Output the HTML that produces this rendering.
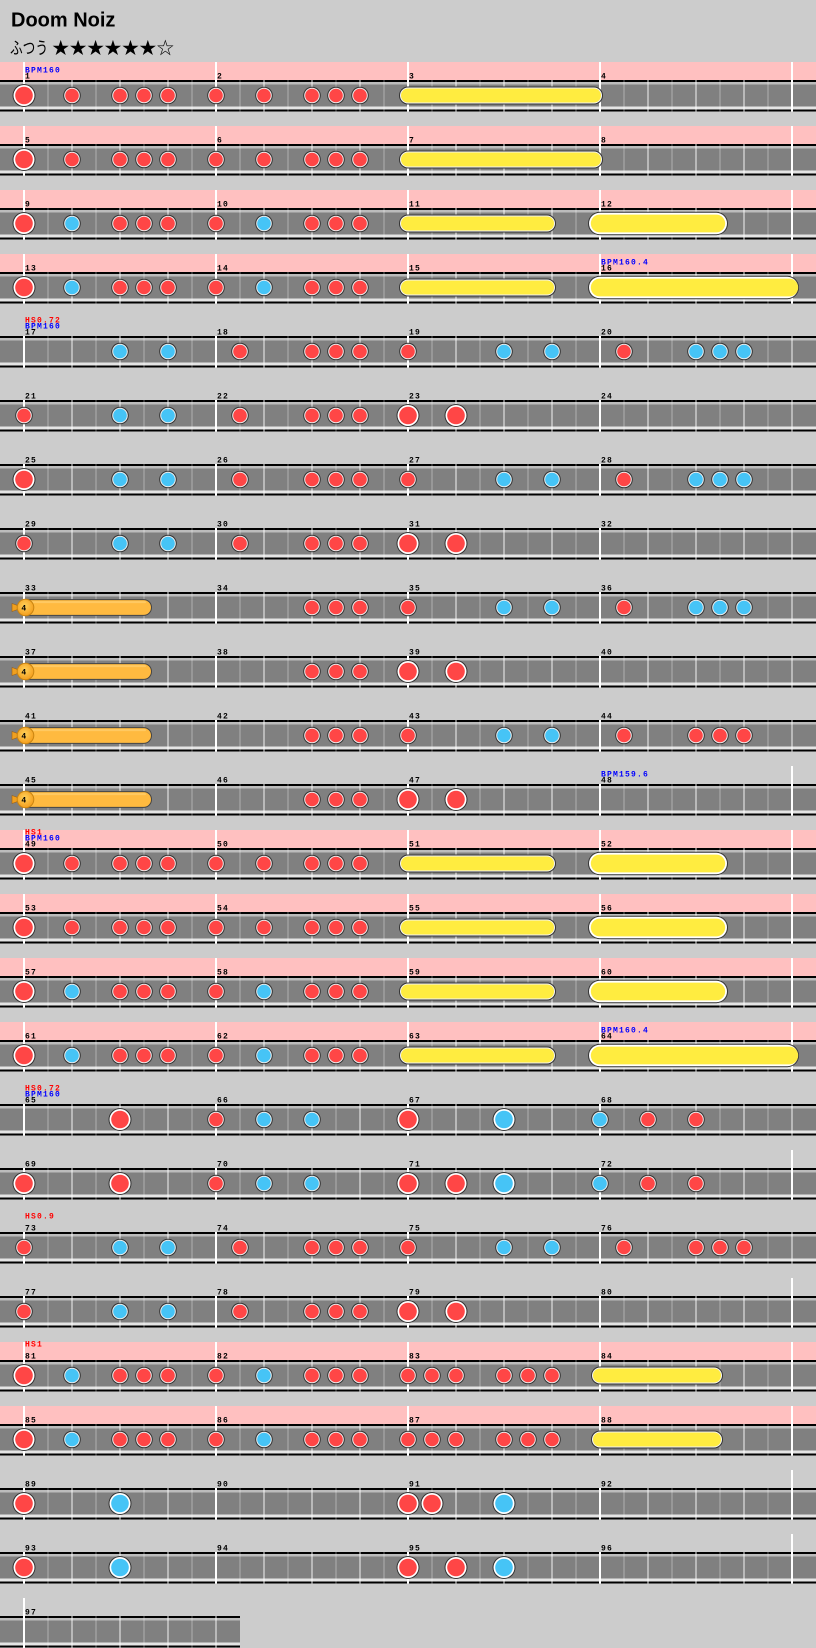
<!DOCTYPE html>
<html><head><meta charset="utf-8"><style>
html,body{margin:0;padding:0;background:#ccc;}
svg{display:block;}
</style></head><body>
<svg xmlns="http://www.w3.org/2000/svg" width="816" height="1648" viewBox="0 0 816 1648">
<defs>
<g id="lane">
<rect y="18" width="816" height="31.5" fill="#000"/>
<rect y="20" width="816" height="2.5" fill="#bcbcbc"/>
<rect y="22.5" width="816" height="22" fill="#808080"/>
<rect y="44.5" width="816" height="3" fill="#e4e4e4"/>
<path d="M48 18V49.5M96 18V49.5M144 18V49.5M192 18V49.5M240 18V49.5M288 18V49.5M336 18V49.5M384 18V49.5M432 18V49.5M480 18V49.5M528 18V49.5M576 18V49.5M624 18V49.5M672 18V49.5M720 18V49.5M768 18V49.5" stroke="#fff" stroke-opacity="0.25" stroke-width="1.5"/>
<path d="M72 18V49.5M120 18V49.5M168 18V49.5M264 18V49.5M312 18V49.5M360 18V49.5M456 18V49.5M504 18V49.5M552 18V49.5M648 18V49.5M696 18V49.5M744 18V49.5M792 18V49.5" stroke="#fff" stroke-opacity="0.45" stroke-width="2"/>
</g>
<g id="mN"><path d="M24 18V49.5M216 18V49.5M408 18V49.5M600 18V49.5" stroke="#fff" stroke-width="2"/></g>
<g id="mP"><rect width="816" height="18" fill="#ffc0c0"/><path d="M24 0V49.5M216 0V49.5M408 0V49.5M600 0V49.5M792 0V49.5" stroke="#fff" stroke-width="2"/></g>
<g id="mE"><path d="M24 18V49.5M216 18V49.5M408 18V49.5M600 18V49.5M792 0V49.5" stroke="#fff" stroke-width="2"/></g>

<g id="dS"><circle r="8.8" fill="#333"/><circle r="7.8" fill="#eee"/><circle r="6.8" fill="#ff4646"/></g>
<g id="dL"><circle r="11.5" fill="#333"/><circle r="10.5" fill="#fff"/><circle r="8.8" fill="#ff4646"/></g>
<g id="kS"><circle r="8.8" fill="#333"/><circle r="7.8" fill="#eee"/><circle r="6.8" fill="#46c4f6"/></g>
<g id="kL"><circle r="11.5" fill="#333"/><circle r="10.5" fill="#fff"/><circle r="8.8" fill="#46c4f6"/></g>

<g id="rs1"><rect x="399" y="-9" width="204" height="18" rx="9" fill="#333"/><rect x="400" y="-8" width="202" height="16" rx="8" fill="#f4f4f4"/><rect x="401" y="-7" width="200" height="14" rx="7" fill="#ffec40"/></g>
<g id="rs2"><rect x="399" y="-9" width="157" height="18" rx="9" fill="#333"/><rect x="400" y="-8" width="155" height="16" rx="8" fill="#f4f4f4"/><rect x="401" y="-7" width="153" height="14" rx="7" fill="#ffec40"/></g>
<g id="rs3"><rect x="591" y="-9" width="132" height="18" rx="9" fill="#333"/><rect x="592" y="-8" width="130" height="16" rx="8" fill="#f4f4f4"/><rect x="593" y="-7" width="128" height="14" rx="7" fill="#ffec40"/></g>
<g id="rb1"><rect x="588" y="-11.7" width="140" height="23.4" rx="11.7" fill="#333"/><rect x="589" y="-10.7" width="138" height="21.4" rx="10.7" fill="#fff"/><rect x="590.8" y="-8.9" width="134.4" height="17.8" rx="8.9" fill="#ffec40"/></g>
<g id="rb2"><rect x="588" y="-11.7" width="211" height="23.4" rx="11.7" fill="#333"/><rect x="589" y="-10.7" width="209" height="21.4" rx="10.7" fill="#fff"/><rect x="590.8" y="-8.9" width="207.4" height="17.8" rx="8.9" fill="#ffec40"/></g>

<radialGradient id="bg" cx="0.45" cy="0.4" r="0.6"><stop offset="0" stop-color="#ffd25a"/><stop offset="1" stop-color="#f5a020"/></radialGradient>
<g id="bal">
<polygon points="12,-4 19,-1.5 19,1.5 12,4" fill="#f0a020" stroke="#a06010" stroke-width="0.6"/>
<rect x="18" y="-8.4" width="134" height="16.8" rx="8.4" fill="#444"/>
<rect x="19" y="-7.4" width="132" height="14.8" rx="7.4" fill="#ffba40"/>
<rect x="30" y="-6.4" width="116" height="2" rx="1" fill="#ffd070" opacity="0.7"/>
<circle cx="25.5" r="8.8" fill="#c98410"/>
<circle cx="25.5" r="7.8" fill="url(#bg)"/>
<text x="23.8" y="2.9" font-family="Liberation Mono, monospace" font-size="8" font-weight="bold" text-anchor="middle" fill="#000">4</text>
</g>

<g id="NA"><use href="#dS" x="360"/><use href="#dS" x="336"/><use href="#dS" x="312"/><use href="#dS" x="264"/><use href="#dS" x="216"/><use href="#dS" x="168"/><use href="#dS" x="144"/><use href="#dS" x="120"/><use href="#dS" x="72"/><use href="#dL" x="24"/></g>
<g id="NB"><use href="#dS" x="360"/><use href="#dS" x="336"/><use href="#dS" x="312"/><use href="#kS" x="264"/><use href="#dS" x="216"/><use href="#dS" x="168"/><use href="#dS" x="144"/><use href="#dS" x="120"/><use href="#kS" x="72"/><use href="#dL" x="24"/></g>
<g id="C0"><use href="#dS" x="240"/><use href="#kS" x="168"/><use href="#kS" x="120"/></g>
<g id="C1"><use href="#dS" x="624"/><use href="#kS" x="552"/><use href="#kS" x="504"/><use href="#dS" x="408"/><use href="#dS" x="360"/><use href="#dS" x="336"/><use href="#dS" x="312"/></g>
<g id="C2"><use href="#dL" x="456"/><use href="#dL" x="408"/><use href="#dS" x="360"/><use href="#dS" x="336"/><use href="#dS" x="312"/></g>
<g id="KT"><use href="#kS" x="744"/><use href="#kS" x="720"/><use href="#kS" x="696"/></g>
<g id="DT"><use href="#dS" x="744"/><use href="#dS" x="720"/><use href="#dS" x="696"/></g>
</defs>

<rect width="816" height="1648" fill="#cccccc"/>

<text x="11" y="26.5" font-family="Liberation Sans, Arial, sans-serif" font-weight="bold" font-size="20" fill="#000">Doom Noiz</text>
<text x="10" y="54" font-family="Liberation Sans, Noto Sans CJK JP, sans-serif" font-size="17" textLength="38" lengthAdjust="spacingAndGlyphs" fill="#000">ふつう</text>
<text x="52" y="54" font-family="Noto Sans CJK JP, DejaVu Sans, sans-serif" font-size="17" textLength="122" lengthAdjust="spacingAndGlyphs" fill="#000">★★★★★★☆</text>

<!-- lanes -->
<use href="#lane" y="62"/><use href="#mP" y="62"/>
<use href="#lane" y="126"/><use href="#mP" y="126"/>
<use href="#lane" y="190"/><use href="#mP" y="190"/>
<use href="#lane" y="254"/><use href="#mP" y="254"/>
<use href="#lane" y="318"/><use href="#mN" y="318"/>
<use href="#lane" y="382"/><use href="#mN" y="382"/>
<use href="#lane" y="446"/><use href="#mN" y="446"/>
<use href="#lane" y="510"/><use href="#mN" y="510"/>
<use href="#lane" y="574"/><use href="#mN" y="574"/>
<use href="#lane" y="638"/><use href="#mN" y="638"/>
<use href="#lane" y="702"/><use href="#mN" y="702"/>
<use href="#lane" y="766"/><use href="#mE" y="766"/>
<use href="#lane" y="830"/><use href="#mP" y="830"/>
<use href="#lane" y="894"/><use href="#mP" y="894"/>
<use href="#lane" y="958"/><use href="#mP" y="958"/>
<use href="#lane" y="1022"/><use href="#mP" y="1022"/>
<use href="#lane" y="1086"/><use href="#mN" y="1086"/>
<use href="#lane" y="1150"/><use href="#mE" y="1150"/>
<use href="#lane" y="1214"/><use href="#mN" y="1214"/>
<use href="#lane" y="1278"/><use href="#mE" y="1278"/>
<use href="#lane" y="1342"/><use href="#mP" y="1342"/>
<use href="#lane" y="1406"/><use href="#mP" y="1406"/>
<use href="#lane" y="1470"/><use href="#mE" y="1470"/>
<use href="#lane" y="1534"/><use href="#mE" y="1534"/>
<!-- measure 97 -->
<rect x="0" y="1616" width="240" height="31.5" fill="#000"/>
<rect x="0" y="1618" width="240" height="2.5" fill="#bcbcbc"/>
<rect x="0" y="1620.5" width="240" height="22" fill="#808080"/>
<rect x="0" y="1642.5" width="240" height="3" fill="#e4e4e4"/>
<path d="M48 1616V1648M96 1616V1648M144 1616V1648M192 1616V1648" stroke="#fff" stroke-opacity="0.25" stroke-width="1.5"/>
<path d="M72 1616V1648M120 1616V1648M168 1616V1648M216 1616V1648" stroke="#fff" stroke-opacity="0.45" stroke-width="2"/>
<path d="M24 1598V1648" stroke="#fff" stroke-width="2"/>

<!-- labels -->
<g font-family="Liberation Mono, DejaVu Sans Mono, monospace" font-size="8" font-weight="bold" letter-spacing="1.2" fill="#000">
<text x="25" y="78.7">1</text><text x="217" y="78.7">2</text><text x="409" y="78.7">3</text><text x="601" y="78.7">4</text>
<text x="25" y="142.7">5</text><text x="217" y="142.7">6</text><text x="409" y="142.7">7</text><text x="601" y="142.7">8</text>
<text x="25" y="206.7">9</text><text x="217" y="206.7">10</text><text x="409" y="206.7">11</text><text x="601" y="206.7">12</text>
<text x="25" y="270.7">13</text><text x="217" y="270.7">14</text><text x="409" y="270.7">15</text><text x="601" y="270.7">16</text>
<text x="25" y="334.7">17</text><text x="217" y="334.7">18</text><text x="409" y="334.7">19</text><text x="601" y="334.7">20</text>
<text x="25" y="398.7">21</text><text x="217" y="398.7">22</text><text x="409" y="398.7">23</text><text x="601" y="398.7">24</text>
<text x="25" y="462.7">25</text><text x="217" y="462.7">26</text><text x="409" y="462.7">27</text><text x="601" y="462.7">28</text>
<text x="25" y="526.7">29</text><text x="217" y="526.7">30</text><text x="409" y="526.7">31</text><text x="601" y="526.7">32</text>
<text x="25" y="590.7">33</text><text x="217" y="590.7">34</text><text x="409" y="590.7">35</text><text x="601" y="590.7">36</text>
<text x="25" y="654.7">37</text><text x="217" y="654.7">38</text><text x="409" y="654.7">39</text><text x="601" y="654.7">40</text>
<text x="25" y="718.7">41</text><text x="217" y="718.7">42</text><text x="409" y="718.7">43</text><text x="601" y="718.7">44</text>
<text x="25" y="782.7">45</text><text x="217" y="782.7">46</text><text x="409" y="782.7">47</text><text x="601" y="782.7">48</text>
<text x="25" y="846.7">49</text><text x="217" y="846.7">50</text><text x="409" y="846.7">51</text><text x="601" y="846.7">52</text>
<text x="25" y="910.7">53</text><text x="217" y="910.7">54</text><text x="409" y="910.7">55</text><text x="601" y="910.7">56</text>
<text x="25" y="974.7">57</text><text x="217" y="974.7">58</text><text x="409" y="974.7">59</text><text x="601" y="974.7">60</text>
<text x="25" y="1038.7">61</text><text x="217" y="1038.7">62</text><text x="409" y="1038.7">63</text><text x="601" y="1038.7">64</text>
<text x="25" y="1102.7">65</text><text x="217" y="1102.7">66</text><text x="409" y="1102.7">67</text><text x="601" y="1102.7">68</text>
<text x="25" y="1166.7">69</text><text x="217" y="1166.7">70</text><text x="409" y="1166.7">71</text><text x="601" y="1166.7">72</text>
<text x="25" y="1230.7">73</text><text x="217" y="1230.7">74</text><text x="409" y="1230.7">75</text><text x="601" y="1230.7">76</text>
<text x="25" y="1294.7">77</text><text x="217" y="1294.7">78</text><text x="409" y="1294.7">79</text><text x="601" y="1294.7">80</text>
<text x="25" y="1358.7">81</text><text x="217" y="1358.7">82</text><text x="409" y="1358.7">83</text><text x="601" y="1358.7">84</text>
<text x="25" y="1422.7">85</text><text x="217" y="1422.7">86</text><text x="409" y="1422.7">87</text><text x="601" y="1422.7">88</text>
<text x="25" y="1486.7">89</text><text x="217" y="1486.7">90</text><text x="409" y="1486.7">91</text><text x="601" y="1486.7">92</text>
<text x="25" y="1550.7">93</text><text x="217" y="1550.7">94</text><text x="409" y="1550.7">95</text><text x="601" y="1550.7">96</text>
<text x="25" y="1614.7">97</text>
</g>
<g font-family="Liberation Mono, DejaVu Sans Mono, monospace" font-size="8" font-weight="bold" letter-spacing="1.2" fill="#0000ff">
<text x="25" y="72.5">BPM160</text>
<text x="601" y="264.5">BPM160.4</text>
<text x="25" y="328.5">BPM160</text>
<text x="601" y="776.5">BPM159.6</text>
<text x="25" y="840.5">BPM160</text>
<text x="601" y="1032.5">BPM160.4</text>
<text x="25" y="1096.5">BPM160</text>
</g>
<g font-family="Liberation Mono, DejaVu Sans Mono, monospace" font-size="8" font-weight="bold" letter-spacing="1.2" fill="#ff0000">
<text x="25" y="322.3">HS0.72</text>
<text x="25" y="834.3">HS1</text>
<text x="25" y="1090.3">HS0.72</text>
<text x="25" y="1218.3">HS0.9</text>
<text x="25" y="1346.3">HS1</text>
</g>

<!-- notes -->
<use href="#rs1" y="95.5"/><use href="#NA" y="95.5"/>
<use href="#rs1" y="159.5"/><use href="#NA" y="159.5"/>
<use href="#rs2" y="223.5"/><use href="#rb1" y="223.5"/><use href="#NB" y="223.5"/>
<use href="#rs2" y="287.5"/><use href="#rb2" y="287.5"/><use href="#NB" y="287.5"/>
<use href="#KT" y="351.5"/><use href="#C1" y="351.5"/><use href="#C0" y="351.5"/>
<use href="#C2" y="415.5"/><use href="#C0" y="415.5"/><use href="#dS" x="24" y="415.5"/>
<use href="#KT" y="479.5"/><use href="#C1" y="479.5"/><use href="#C0" y="479.5"/><use href="#dL" x="24" y="479.5"/>
<use href="#C2" y="543.5"/><use href="#C0" y="543.5"/><use href="#dS" x="24" y="543.5"/>
<use href="#KT" y="607.5"/><use href="#C1" y="607.5"/><use href="#bal" y="607.5"/>
<use href="#C2" y="671.5"/><use href="#bal" y="671.5"/>
<use href="#DT" y="735.5"/><use href="#C1" y="735.5"/><use href="#bal" y="735.5"/>
<use href="#C2" y="799.5"/><use href="#bal" y="799.5"/>
<use href="#rs2" y="863.5"/><use href="#rb1" y="863.5"/><use href="#NA" y="863.5"/>
<use href="#rs2" y="927.5"/><use href="#rb1" y="927.5"/><use href="#NA" y="927.5"/>
<use href="#rs2" y="991.5"/><use href="#rb1" y="991.5"/><use href="#NB" y="991.5"/>
<use href="#rs2" y="1055.5"/><use href="#rb2" y="1055.5"/><use href="#NB" y="1055.5"/>
<use href="#dS" x="696" y="1119.5"/><use href="#dS" x="648" y="1119.5"/><use href="#kS" x="600" y="1119.5"/><use href="#kL" x="504" y="1119.5"/><use href="#dL" x="408" y="1119.5"/><use href="#kS" x="312" y="1119.5"/><use href="#kS" x="264" y="1119.5"/><use href="#dS" x="216" y="1119.5"/><use href="#dL" x="120" y="1119.5"/>
<use href="#dS" x="696" y="1183.5"/><use href="#dS" x="648" y="1183.5"/><use href="#kS" x="600" y="1183.5"/><use href="#kL" x="504" y="1183.5"/><use href="#dL" x="456" y="1183.5"/><use href="#dL" x="408" y="1183.5"/><use href="#kS" x="312" y="1183.5"/><use href="#kS" x="264" y="1183.5"/><use href="#dS" x="216" y="1183.5"/><use href="#dL" x="120" y="1183.5"/><use href="#dL" x="24" y="1183.5"/>
<use href="#DT" y="1247.5"/><use href="#C1" y="1247.5"/><use href="#C0" y="1247.5"/><use href="#dS" x="24" y="1247.5"/>
<use href="#C2" y="1311.5"/><use href="#C0" y="1311.5"/><use href="#dS" x="24" y="1311.5"/>
<use href="#rs3" y="1375.5"/><use href="#dS" x="552" y="1375.5"/><use href="#dS" x="528" y="1375.5"/><use href="#dS" x="504" y="1375.5"/><use href="#dS" x="456" y="1375.5"/><use href="#dS" x="432" y="1375.5"/><use href="#dS" x="408" y="1375.5"/><use href="#NB" y="1375.5"/>
<use href="#rs3" y="1439.5"/><use href="#dS" x="552" y="1439.5"/><use href="#dS" x="528" y="1439.5"/><use href="#dS" x="504" y="1439.5"/><use href="#dS" x="456" y="1439.5"/><use href="#dS" x="432" y="1439.5"/><use href="#dS" x="408" y="1439.5"/><use href="#NB" y="1439.5"/>
<use href="#kL" x="504" y="1503.5"/><use href="#dL" x="432" y="1503.5"/><use href="#dL" x="408" y="1503.5"/><use href="#kL" x="120" y="1503.5"/><use href="#dL" x="24" y="1503.5"/>
<use href="#kL" x="504" y="1567.5"/><use href="#dL" x="456" y="1567.5"/><use href="#dL" x="408" y="1567.5"/><use href="#kL" x="120" y="1567.5"/><use href="#dL" x="24" y="1567.5"/>
</svg>
</body></html>
